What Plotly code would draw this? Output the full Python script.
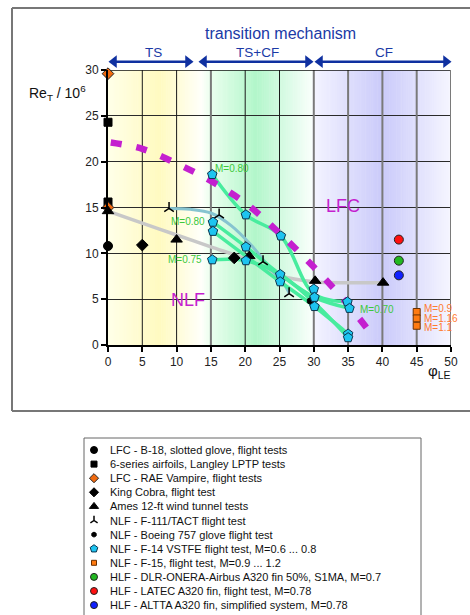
import plotly.graph_objects as go

W, H = 470, 615

# ---------------- data ----------------
b18_x = [0]; b18_y = [10.8]
six_x = [0, 0]; six_y = [24.3, 15.6]
rae_x = [0, 0]; rae_y = [29.6, 15.0]
cobra_x = [5, 18.4]; cobra_y = [10.9, 9.5]
ames_x = [0, 10, 20.6, 30.2, 40.1]; ames_y = [14.6, 11.5, 9.7, 7.0, 6.8]
f111_x = [8.9, 16.2, 22.6, 26.4]; f111_y = [14.9, 14.2, 9.1, 5.6]
b757_x = [29.5]; b757_y = [4.8]
f14_x = [15.2, 15.3, 15.3, 15.2, 20.1, 20.1, 20.1, 25.2, 25.1, 25.1, 30.0, 30.1, 30.1, 34.9, 35.2, 35.0, 35.0]
f14_y = [18.6, 13.4, 12.4, 9.3, 14.2, 10.7, 9.2, 11.9, 7.7, 6.9, 6.1, 5.2, 4.2, 4.7, 4.0, 1.2, 0.8]
f15_x = [45, 45, 45]; f15_y = [3.6, 2.9, 2.1]
f15_labels = ["M=0.9", "M=1.16", "M=1.1"]
dlr_x = [42.4]; dlr_y = [9.2]
latec_x = [42.4]; latec_y = [11.5]
altta_x = [42.4]; altta_y = [7.6]

# trend curves
lfc_x = [0.4, 5, 10, 15, 20, 25, 30, 35, 39]
lfc_y = [22.1, 21.4, 19.8, 17.9, 15.5, 12.2, 8.5, 4.4, 0.6]
grey_x = [0, 5, 10, 15, 20, 25, 30, 35, 40]
grey_y = [14.6, 13.3, 12.0, 10.7, 9.4, 7.6, 6.9, 6.8, 6.8]
teal_x = [8.9, 12, 15, 18, 21, 23.5, 25.5, 26.4]
teal_y = [14.9, 14.8, 14.4, 13.0, 10.8, 8.5, 6.8, 5.7]
green_curves = [
    ([15.2, 20.1, 25.2, 30.0, 35.0], [18.6, 14.2, 11.9, 5.6, 4.7]),
    ([15.3, 20.1, 25.1, 30.1, 35.2], [13.4, 10.7, 7.7, 5.2, 4.0]),
    ([15.3, 20.1, 25.1, 30.1, 35.0], [12.4, 9.7, 6.9, 4.2, 1.2]),
    ([15.2, 20.1, 25.1, 30.1, 35.0], [9.3, 9.2, 7.7, 4.6, 0.8]),
]
green_labels = [("M=0.80", 15.2, 18.6), ("M=0.80", 15.3, 13.4), ("M=0.75", 15.2, 9.3), ("M=0.70", 35.2, 4.0)]

x_ticks = [0, 5, 10, 15, 20, 25, 30, 35, 40, 45, 50]
y_ticks = [0, 5, 10, 15, 20, 25, 30]

regime_labels = ["TS", "TS+CF", "CF"]

legend_names = [
    "LFC - B-18, slotted glove, flight tests",
    "6-series airfoils, Langley LPTP tests",
    "LFC - RAE Vampire, flight tests",
    "King Cobra, flight test",
    "Ames 12-ft wind tunnel tests",
    "NLF - F-111/TACT flight test",
    "NLF - Boeing 757 glove flight test",
    "NLF - F-14 VSTFE flight test, M=0.6 ... 0.8",
    "NLF - F-15, flight test, M=0.9 ... 1.2",
    "HLF - DLR-ONERA-Airbus A320 fin 50%, S1MA, M=0.7",
    "HLF - LATEC A320 fin, flight test, M=0.78",
    "HLF - ALTTA A320 fin, simplified system, M=0.78",
]

FONT = "Liberation Sans, Arial, sans-serif"

def px(xp):
    return xp / W

def py(yp):
    return 1 - yp / H

fig = go.Figure()

# ---------------- background gradient ----------------
stops = [(0, (255, 255, 232)), (7.5, (255, 250, 192)), (13.6, (255, 255, 250)),
         (15.0, (234, 255, 238)), (21.5, (178, 246, 202)), (29.8, (250, 255, 252)),
         (30.0, (244, 244, 255)), (40.0, (202, 202, 250)), (50.0, (246, 246, 255))]

def interp(x):
    for (a, ca), (b, cb) in zip(stops[:-1], stops[1:]):
        if a <= x <= b:
            t = (x - a) / (b - a) if b > a else 0
            c = [round(ca[i] + (cb[i] - ca[i]) * t) for i in range(3)]
            return "rgb(%d,%d,%d)" % tuple(c)
    return "rgb(%d,%d,%d)" % stops[-1][1]

step = 0.25
n = int(50 / step)
for i in range(n):
    x0 = i * step
    x1 = min(50, x0 + step * 1.3)
    fig.add_shape(type="rect", xref="x", yref="y", x0=x0, x1=x1, y0=0, y1=30,
                  fillcolor=interp(x0 + step / 2), line_width=0, layer="below")

# vertical grid lines
for xv in x_ticks[1:-1]:
    grey = xv in (15, 30, 35, 40, 45)
    fig.add_shape(type="line", xref="x", yref="y", x0=xv, x1=xv, y0=0, y1=30,
                  line=dict(color="#7a7a7a" if grey else "#1a1a1a", width=2 if grey else 1),
                  layer="between")
# top / right borders
fig.add_shape(type="line", xref="x", yref="y", x0=0, x1=50, y0=30, y1=30,
              line=dict(color="#111", width=1.5), layer="between")
fig.add_shape(type="line", xref="x", yref="y", x0=50, x1=50, y0=0, y1=30,
              line=dict(color="#7a7a7a", width=2), layer="between")

# outer frame (left, top, bottom) and legend box (left, top, right)
frame = dict(color="#777", width=2)
for (a, b, c, d) in ((12, 8, 12, 411), (12, 8, 470, 8), (12, 411, 470, 411)):
    fig.add_shape(type="line", xref="paper", yref="paper", x0=px(a), y0=py(b), x1=px(c), y1=py(d),
                  line=frame, layer="below")
lbox = dict(color="#666", width=1)
for (a, b, c, d) in ((84, 438, 84, 615), (84, 438, 421, 438), (421, 438, 421, 615)):
    fig.add_shape(type="line", xref="paper", yref="paper", x0=px(a), y0=py(b), x1=px(c), y1=py(d),
                  line=lbox, layer="below")

# ---------------- curves ----------------
fig.add_trace(go.Scatter(x=grey_x, y=grey_y, mode="lines", line=dict(color="#c8c8c8", width=3.5, shape="spline"),
                         hoverinfo="skip", showlegend=False))
fig.add_trace(go.Scatter(x=teal_x, y=teal_y, mode="lines", line=dict(color="#86c4d0", width=3, shape="spline"),
                         hoverinfo="skip", showlegend=False))
for gx, gy in green_curves:
    fig.add_trace(go.Scatter(x=gx, y=gy, mode="lines", line=dict(color="#48ec9e", width=3.5, shape="spline"),
                             hoverinfo="skip", showlegend=False))
fig.add_trace(go.Scatter(x=lfc_x, y=lfc_y, mode="lines",
                         line=dict(color="#c41fcf", width=6.5, dash="11px,15px", shape="spline"),
                         hoverinfo="skip", showlegend=False))

# ---------------- markers ----------------
series = [
    (b18_x, b18_y, dict(symbol="circle", size=9, color="#000", line=dict(color="#000", width=1))),
    (six_x, six_y, dict(symbol="square", size=8, color="#000", line=dict(color="#000", width=1))),
    (rae_x, rae_y, dict(symbol="diamond", size=9, color="#f06a10", line=dict(color="#222", width=1))),
    (cobra_x, cobra_y, dict(symbol="diamond", size=9, color="#000", line=dict(color="#000", width=1))),
    (ames_x, ames_y, dict(symbol="triangle-up", size=10, color="#000", line=dict(color="#000", width=1))),
    (f111_x, f111_y, dict(symbol="y-up", size=8, color="#000", line=dict(color="#000", width=1.5))),
    (b757_x, b757_y, dict(symbol="hexagon", size=7, color="#000", line=dict(color="#000", width=1))),
    (f14_x, f14_y, dict(symbol="pentagon", size=10, color="#1ec4f0", line=dict(color="#0a3550", width=1))),
    (f15_x, f15_y, dict(symbol="square", size=7, color="#ff7a10", line=dict(color="#6a3000", width=1))),
    (dlr_x, dlr_y, dict(symbol="circle", size=9, color="#22b822", line=dict(color="#222", width=1))),
    (latec_x, latec_y, dict(symbol="circle", size=9, color="#ff1010", line=dict(color="#222", width=1))),
    (altta_x, altta_y, dict(symbol="circle", size=9, color="#1020ff", line=dict(color="#222", width=1))),
]
for (sx, sy, mk), name in zip(series, legend_names):
    fig.add_trace(go.Scatter(x=sx, y=sy, mode="markers", marker=mk, name=name, cliponaxis=False,
                             showlegend=False))

# ---------------- manual legend (pixel-space overlay axes) ----------------
leg_y0, leg_dy = 450, 14.1
for i, ((sx, sy, mk), name) in enumerate(zip(series, legend_names)):
    m = dict(mk)
    m["size"] = max(5, mk["size"] - 2)
    yy = leg_y0 + leg_dy * i
    fig.add_trace(go.Scatter(x=[94], y=[yy], xaxis="x2", yaxis="y2", mode="markers", marker=m,
                             showlegend=False, hoverinfo="skip", cliponaxis=False))
    fig.add_annotation(x=108, y=yy, xref="x2", yref="y2", text=name, showarrow=False,
                       xanchor="left", yanchor="middle", font=dict(family=FONT, size=11, color="#111"))

# ---------------- transition mechanism header ----------------
blue = "#1a3aa6"
fig.add_annotation(x=280, y=33, xref="x2", yref="y2", text="transition mechanism",
                   showarrow=False, xanchor="center", yanchor="middle",
                   font=dict(family=FONT, size=16, color=blue))
arrow_spans = ((110, 192), (200, 312), (316, 450))
label_cx = (153, 257, 384)
for label, cx, (x0p, x1p) in zip(regime_labels, label_cx, arrow_spans):
    fig.add_annotation(x=cx, y=52, xref="x2", yref="y2", text=label, showarrow=False,
                       xanchor="center", yanchor="middle",
                       font=dict(family=FONT, size=13.5, color=blue))
    fig.add_trace(go.Scatter(x=[x0p + 5, x1p - 5], y=[61.7, 61.7], xaxis="x2", yaxis="y2",
                             mode="lines", line=dict(color="#0f30a0", width=2.5),
                             showlegend=False, hoverinfo="skip", cliponaxis=False))
    fig.add_trace(go.Scatter(x=[x0p + 4, x1p - 4], y=[61.7, 61.7], xaxis="x2", yaxis="y2",
                             mode="markers", marker=dict(symbol=["triangle-left", "triangle-right"],
                                                         size=11, color="#0f30a0"),
                             showlegend=False, hoverinfo="skip", cliponaxis=False))

# axis titles
fig.add_annotation(x=27, y=93, xref="x2", yref="y2", xanchor="left", yanchor="middle",
                   text="Re<sub>T</sub> / 10<sup>6</sup>", showarrow=False,
                   font=dict(family=FONT, size=14, color="#111"))
fig.add_annotation(x=426, y=371, xref="x2", yref="y2", xanchor="left", yanchor="middle",
                   text="φ<sub>LE</sub>", showarrow=False,
                   font=dict(family=FONT, size=15, color="#111"))

# region labels
fig.add_annotation(x=11.7, y=4.9, xref="x", yref="y", text="NLF", showarrow=False,
                   xanchor="center", yanchor="middle",
                   font=dict(family=FONT, size=18, color="#c41fcf"))
fig.add_annotation(x=34.3, y=15.2, xref="x", yref="y", text="LFC", showarrow=False,
                   xanchor="center", yanchor="middle",
                   font=dict(family=FONT, size=18, color="#c41fcf"))

green_txt = "#3cc83c"
g_opts = [dict(xanchor="left", yanchor="bottom", xshift=1, yshift=-2),
          dict(xanchor="right", yanchor="middle", xshift=-6, yshift=1),
          dict(xanchor="right", yanchor="middle", xshift=-8, yshift=0),
          dict(xanchor="left", yanchor="middle", xshift=9, yshift=-1)]
for (lab, lx, ly), o in zip(green_labels, g_opts):
    fig.add_annotation(x=lx, y=ly, xref="x", yref="y", text=lab, showarrow=False,
                       font=dict(family=FONT, size=10, color=green_txt), **o)
for lab, lx, ly, ys in zip(f15_labels, f15_x, f15_y, (4, 0, -2)):
    fig.add_annotation(x=lx, y=ly, xref="x", yref="y", text=lab, showarrow=False, xanchor="left",
                       yanchor="middle", xshift=5, yshift=ys,
                       font=dict(family=FONT, size=10, color="#ff7a30"))

# ---------------- layout ----------------
fig.update_layout(
    width=W, height=H, autosize=False,
    margin=dict(l=0, r=0, t=0, b=0, pad=0),
    paper_bgcolor="white", plot_bgcolor="rgba(0,0,0,0)",
    showlegend=False,
    font=dict(family=FONT, size=12, color="#222"),
    xaxis=dict(domain=[px(108), px(451)], range=[0, 50], tickvals=x_ticks, ticks="outside",
               ticklen=5, tickwidth=1.5, tickcolor="#000", showline=True, linecolor="#000", linewidth=2,
               showgrid=False, zeroline=False, tickfont=dict(family=FONT, size=12, color="#222"),
               fixedrange=True, automargin=False),
    yaxis=dict(domain=[py(345), py(70)], range=[0, 30], tickvals=y_ticks, ticks="outside",
               ticklen=5, tickwidth=1.5, tickcolor="#000", showline=True, linecolor="#000", linewidth=2,
               showgrid=True, gridcolor="#2a2a2a", gridwidth=1, zeroline=False,
               tickfont=dict(family=FONT, size=12, color="#222"), fixedrange=True, automargin=False),
    xaxis2=dict(domain=[0, 1], range=[0, W], visible=False, anchor="y2", fixedrange=True),
    yaxis2=dict(domain=[0, 1], range=[H, 0], visible=False, anchor="x2", fixedrange=True),
)

fig.write_html("out.html")
